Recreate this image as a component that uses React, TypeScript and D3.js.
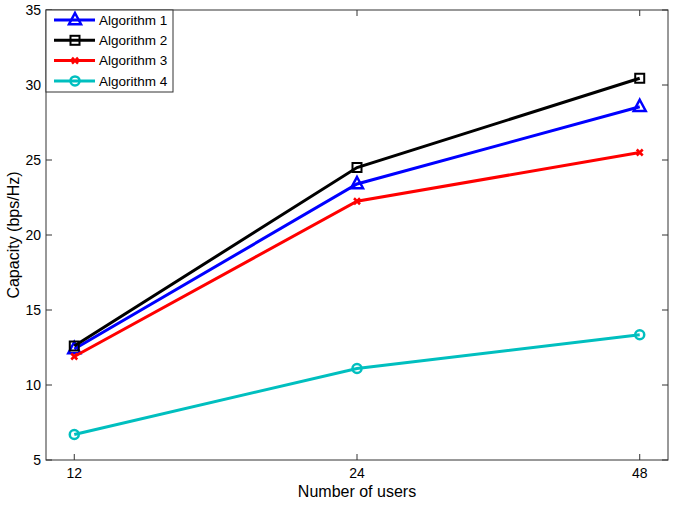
import React from "react";
import * as d3 from "d3";

const categories = ["12", "24", "48"];
const alg1 = [12.4, 23.4, 28.55];
const alg2 = [12.6, 24.5, 30.45];
const alg3 = [11.9, 22.25, 25.5];
const alg4 = [6.7, 11.1, 13.35];
const yTicks = [5, 10, 15, 20, 25, 30, 35];
const seriesNames = ["Algorithm 1", "Algorithm 2", "Algorithm 3", "Algorithm 4"];
const seriesColors = ["#0000ff", "#000000", "#ff0000", "#00bfbf"];
const seriesMarkers = ["triangle", "square", "x", "circle"];

const W = 685, H = 505;
const L = 46, R = 668, T = 10, B = 460;

function Marker({ type, x, y, color }: { type: string; x: number; y: number; color: string }) {
  if (type === "triangle") {
    const s = 6;
    return <path d={`M${x},${y - s - 1}L${x + s},${y + s * 0.7}L${x - s},${y + s * 0.7}Z`} fill="none" stroke={color} strokeWidth={2.5} />;
  }
  if (type === "square") {
    const s = 4.5;
    return <rect x={x - s} y={y - s} width={2 * s} height={2 * s} fill="none" stroke={color} strokeWidth={2} />;
  }
  if (type === "x") {
    const s = 3;
    return <path d={`M${x - s},${y - s}L${x + s},${y + s}M${x - s},${y + s}L${x + s},${y - s}`} stroke={color} strokeWidth={2.5} />;
  }
  return <circle cx={x} cy={y} r={4.5} fill="none" stroke={color} strokeWidth={2.5} />;
}

export default function App() {
  const x = d3.scalePoint<string>().domain(categories).range([L, R]).padding(0.1);
  const y = d3.scaleLinear().domain([5, 35]).range([B, T]);
  const data = [alg1, alg2, alg3, alg4];
  const line = d3.line<number>().x((_, i) => x(categories[i])!).y((d) => y(d));
  const font = "Liberation Sans, Arial, Helvetica, sans-serif";
  return (
    <svg width={W} height={H} style={{ position: "absolute", left: 0, top: 0, background: "#fff" }} fontFamily={font}>
      <rect x={0} y={0} width={W} height={H} fill="#fff" />
      {yTicks.map((t) => (
        <g key={t}>
          <line x1={L} x2={L + 6} y1={y(t)} y2={y(t)} stroke="#333" strokeWidth={1} />
          <line x1={R} x2={R - 6} y1={y(t)} y2={y(t)} stroke="#333" strokeWidth={1} />
          <text x={L - 5} y={y(t)} dy="0.35em" textAnchor="end" fontSize={14} fill="#000">{t}</text>
        </g>
      ))}
      {categories.map((c) => (
        <g key={c}>
          <line x1={x(c)!} x2={x(c)!} y1={B} y2={B - 6} stroke="#333" strokeWidth={1} />
          <line x1={x(c)!} x2={x(c)!} y1={T} y2={T + 6} stroke="#333" strokeWidth={1} />
          <text x={x(c)!} y={B + 18} textAnchor="middle" fontSize={14} fill="#000">{c}</text>
        </g>
      ))}
      <rect x={L} y={T} width={R - L} height={B - T} fill="none" stroke="#333" strokeWidth={1} />
      {data.map((s, i) => (
        <g key={i}>
          <path d={line(s)!} fill="none" stroke={seriesColors[i]} strokeWidth={3} />
          {s.map((v, j) => (
            <Marker key={j} type={seriesMarkers[i]} x={x(categories[j])!} y={y(v)} color={seriesColors[i]} />
          ))}
        </g>
      ))}
      <rect x={L} y={T} width={127} height={82} fill="#fff" stroke="#333" strokeWidth={1} />
      {seriesNames.map((n, i) => {
        const ly = T + 10 + i * 20.3;
        return (
          <g key={n}>
            <line x1={54} x2={95} y1={ly} y2={ly} stroke={seriesColors[i]} strokeWidth={3} />
            <Marker type={seriesMarkers[i]} x={75} y={ly} color={seriesColors[i]} />
            <text x={99} y={ly} dy="0.35em" fontSize={13.5} fill="#000">{n}</text>
          </g>
        );
      })}
      <text x={(L + R) / 2} y={497} textAnchor="middle" fontSize={16} fill="#000">Number of users</text>
      <text transform={`translate(19,${(T + B) / 2}) rotate(-90)`} textAnchor="middle" fontSize={16} fill="#000">Capacity (bps/Hz)</text>
    </svg>
  );
}
